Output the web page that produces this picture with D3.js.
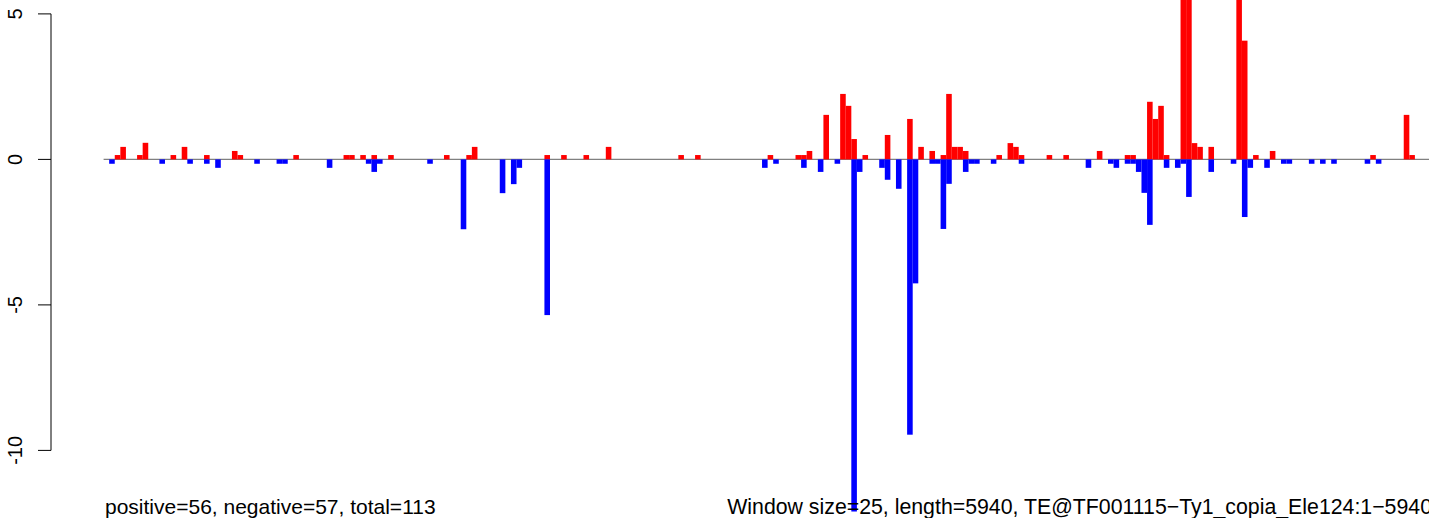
<!DOCTYPE html>
<html>
<head>
<meta charset="utf-8">
<script src="https://cdn.jsdelivr.net/npm/d3@7"></script>
<style>
  html, body { margin: 0; padding: 0; background: #fff; overflow: hidden; }
  svg { display: block; }
  text { font-family: "Liberation Sans", Arial, Helvetica, sans-serif; fill: #000; }
</style>
</head>
<body>
<svg id="chart" width="1429" height="518"></svg>
<script>
// ---- data (window index -> value), window size 25 over length 5940 ----
const nWindows = 238;
const posWindows = [2,3,6,7,12,14,18,23,24,34,43,44,46,48,51,61,65,66,79,82,86,90,103,106,119,124,125,126,129,132,133,134,136,140,144,146,148,150,151,152,153,154,160,162,163,164,169,172,178,183,184,187,188,189,190,193,194,195,196,198,203,204,206,209,227,233,234];
const posValues  = [0.15,0.43,0.15,0.57,0.15,0.43,0.15,0.29,0.15,0.15,0.15,0.15,0.15,0.15,0.15,0.15,0.15,0.43,0.15,0.15,0.15,0.43,0.15,0.15,0.15,0.15,0.15,0.29,1.53,2.25,1.84,0.70,0.15,0.84,1.39,0.43,0.29,0.15,2.25,0.43,0.43,0.29,0.15,0.56,0.43,0.15,0.15,0.15,0.29,0.15,0.15,1.98,1.39,1.84,0.15,7.0,7.0,0.56,0.43,0.43,7.0,4.08,0.15,0.29,0.15,1.53,0.15];
const negWindows = [1,10,15,18,20,27,31,32,40,47,48,49,58,64,71,73,74,79,118,120,125,128,131,134,135,139,140,142,144,145,148,149,150,151,154,155,156,159,164,176,180,181,183,184,185,186,187,190,192,193,194,198,202,204,205,208,211,212,216,218,220,226,228];
const negValues  = [-0.15,-0.15,-0.15,-0.15,-0.29,-0.15,-0.15,-0.15,-0.29,-0.15,-0.43,-0.15,-0.15,-2.40,-1.16,-0.85,-0.29,-5.35,-0.29,-0.15,-0.29,-0.43,-0.15,-12.1,-0.43,-0.29,-0.70,-1.01,-9.46,-4.26,-0.15,-0.15,-2.39,-0.84,-0.43,-0.15,-0.15,-0.15,-0.15,-0.29,-0.15,-0.29,-0.15,-0.15,-0.43,-1.15,-2.25,-0.29,-0.29,-0.15,-1.29,-0.43,-0.15,-1.98,-0.29,-0.29,-0.15,-0.15,-0.15,-0.15,-0.15,-0.15,-0.15];
const yTicks = [5, 0, -5, -10];
const yTickLabels = ["5", "0", "-5", "-10"];
const leftNote = "positive=56, negative=57, total=113";
const rightNote = "Window size=25, length=5940, TE@TF001115\u2212Ty1_copia_Ele124:1\u22125940";

// ---- scales ----
const x = d3.scaleLinear().domain([0, nWindows]).range([103.6, 103.6 + nWindows * 5.58]);
const y = d3.scaleLinear().domain([-10, 5]).range([450.4, 13.9]);

const svg = d3.select("#chart");

// zero line
svg.append("line")
  .attr("x1", x(0)).attr("x2", x(nWindows))
  .attr("y1", y(0)).attr("y2", y(0))
  .attr("stroke", "#808080").attr("stroke-width", 1.3);

const pos = posWindows.map((w, i) => ({ w, v: posValues[i] }));
const neg = negWindows.map((w, i) => ({ w, v: negValues[i] }));

svg.append("g").selectAll("rect").data(pos).join("rect")
  .attr("x", d => x(d.w)).attr("width", d => x(d.w + 1) - x(d.w))
  .attr("y", d => y(d.v)).attr("height", d => y(0) - y(d.v))
  .attr("fill", "#ff0000");

svg.append("g").selectAll("rect").data(neg).join("rect")
  .attr("x", d => x(d.w)).attr("width", d => x(d.w + 1) - x(d.w))
  .attr("y", y(0)).attr("height", d => y(d.v) - y(0))
  .attr("fill", "#0000ff");

// y axis (R style, rotated labels)
const axisX = 51;
const ax = svg.append("g");
ax.append("line").attr("x1", axisX).attr("x2", axisX)
  .attr("y1", y(5)).attr("y2", y(-10)).attr("stroke", "#000").attr("stroke-width", 1);
ax.selectAll("line.tick").data(yTicks).join("line").attr("class", "tick")
  .attr("x1", axisX - 13).attr("x2", axisX)
  .attr("y1", d => y(d)).attr("y2", d => y(d)).attr("stroke", "#000").attr("stroke-width", 1);
ax.selectAll("text").data(yTicks).join("text")
  .attr("transform", d => `translate(22,${y(d)}) rotate(-90)`)
  .attr("text-anchor", "middle")
  .style("font-size", "20px")
  .text((d, i) => yTickLabels[i]);

// bottom notes
svg.append("text").attr("x", 105).attr("y", 514)
  .style("font-size", "21px").text(leftNote);
svg.append("text").attr("x", 1432).attr("y", 514).attr("text-anchor", "end")
  .style("font-size", "21.3px").text(rightNote);
</script>
</body>
</html>
